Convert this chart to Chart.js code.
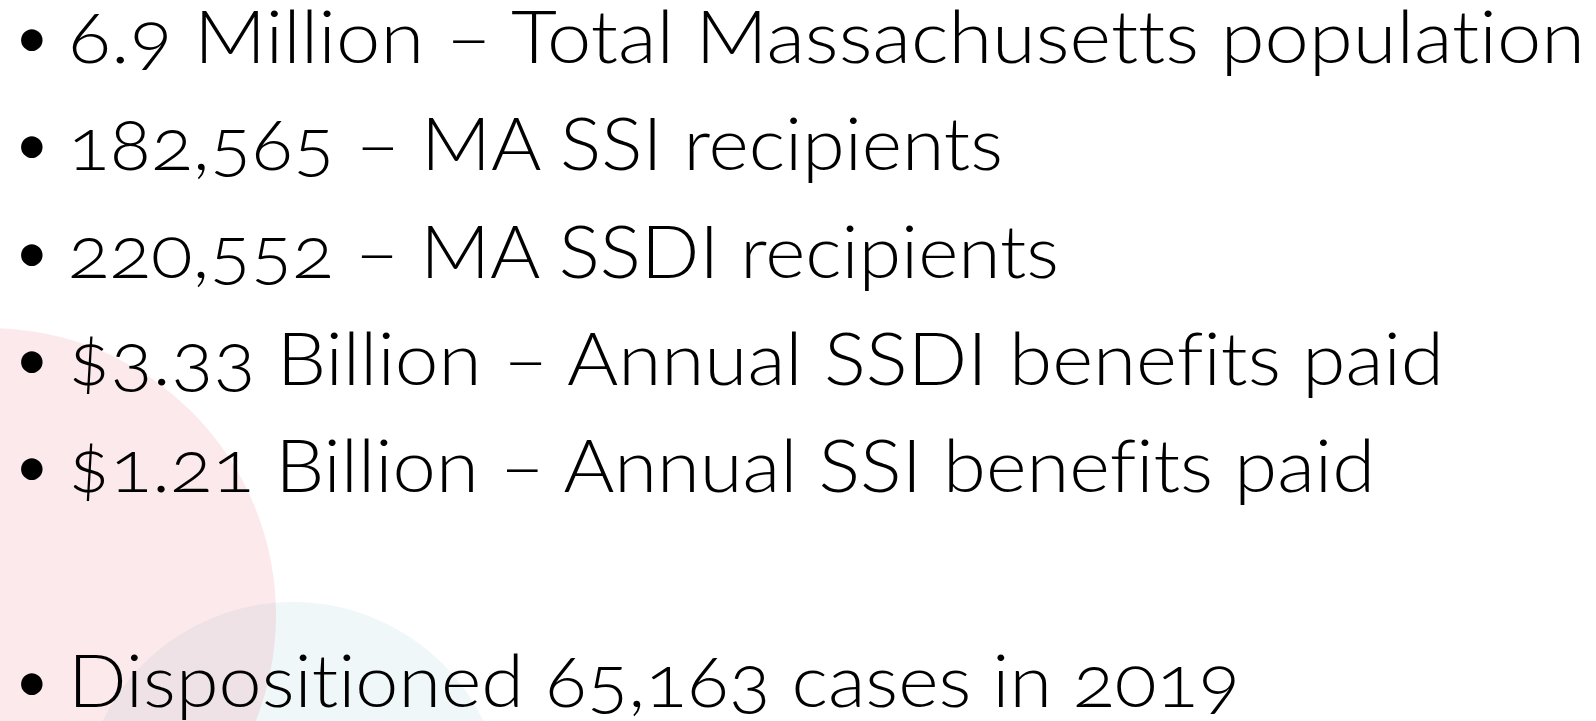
<!DOCTYPE html>
<html>
<head>
<meta charset="utf-8">
<script src="https://cdn.jsdelivr.net/npm/chart.js@4.4.1/dist/chart.umd.min.js"></script>
<style>
  html, body { margin: 0; padding: 0; background: #fff; }
  #wrap { position: relative; width: 1596px; height: 721px; overflow: hidden; }
  #decor { position: absolute; left: 0; top: 0; }
  #facts { position: absolute; left: 0; top: -18px; width: 1596px; margin: 0; padding: 0; list-style: none;
           font-family: Lato, "Open Sans", sans-serif; font-weight: 300; font-size: 73px;
           font-variant-ligatures: none; font-variant-numeric: oldstyle-nums;
           line-height: 107.3px; color: #000; }
  #facts li { position: relative; height: 107.3px; white-space: nowrap; }
  #facts .dot { position: absolute; left: 15px; font-size: 58px; font-weight: 400; }
  #facts .txt { position: absolute; left: 68px; transform-origin: 0 50%; }
</style>
</head>
<body>
<div id="wrap">
  <canvas id="decor" width="1596" height="721"></canvas>
  <ul id="facts"></ul>
</div>
<script>
// slide bullets: figure + what it counts (empty entry = blank line)
const figures = ['6.9 Million', '182,565', '220,552', '$3.33 Billion', '$1.21 Billion', '', 'Dispositioned 65,163'];
const captions = ['Total Massachusetts population', 'MA SSI recipients', 'MA SSDI recipients',
                  'Annual SSDI benefits paid', 'Annual SSI benefits paid', '', 'cases in 2019'];

// background circles (centre x, centre y, radius in px)
const circleX = [-11, 293];
const circleY = [615, 814];
const circleR = [287, 212];
const circleColors = ['rgba(230, 70, 100, 0.12)', 'rgba(100, 180, 200, 0.1)'];

// where each line of text ends on the slide (layout only)
const lineEnds = [1585, 1003, 1059, 1444, 1375, 0, 1240];
const textLeft = 68;

const lines = figures.map((f, i) => {
    if (!f) return '';
    return i === 6 ? `${f} ${captions[i]}` : `${f} \u2013 ${captions[i]}`;
});

// Bullet list
const list = document.getElementById('facts');
lines.forEach((t, i) => {
    const li = document.createElement('li');
    list.appendChild(li);
    if (!t) return;
    li.innerHTML = '<span class="dot">\u2022</span><span class="txt"></span>';
    const span = li.querySelector('.txt');
    span.textContent = t;
    // stretch glyphs a little so the line is as wide as on the slide
    const w = span.getBoundingClientRect().width;
    span.style.transform = `scaleX(${(lineEnds[i] - textLeft) / w})`;
});

// Circles
const ctx = document.getElementById('decor').getContext('2d');
new Chart(ctx, {
    type: 'bubble',
    data: {
        datasets: circleX.map((x, i) => ({
            data: [{ x: x, y: circleY[i], r: circleR[i] }],
            backgroundColor: circleColors[i],
            borderWidth: 0,
            clip: false
        }))
    },
    options: {
        responsive: false,
        animation: false,
        layout: { padding: 0, autoPadding: false },
        plugins: { legend: { display: false }, tooltip: { enabled: false } },
        scales: {
            x: { type: 'linear', display: false, min: 0, max: 1596 },
            y: { type: 'linear', display: false, min: 0, max: 721, reverse: true }
        }
    }
});
</script>
</body>
</html>
